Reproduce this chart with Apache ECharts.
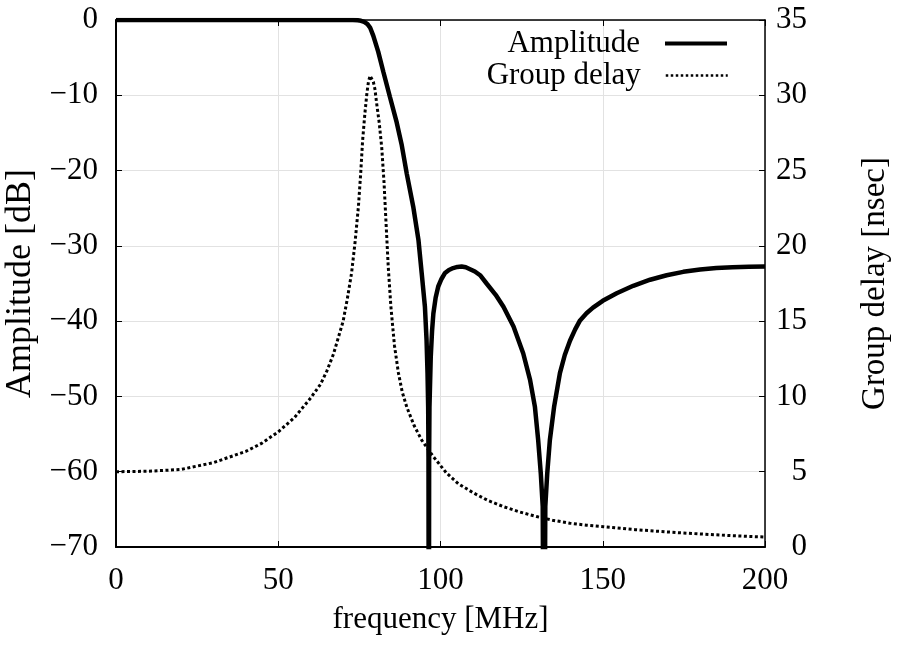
<!DOCTYPE html>
<html><head><meta charset="utf-8">
<script src="https://cdn.jsdelivr.net/npm/echarts@6/dist/echarts.min.js"></script>
<style>html,body{margin:0;padding:0;background:#fff}#c{width:898px;height:651px}</style>
</head><body><div id="c"></div>
<script>
// Amplitude response [dB] vs frequency [MHz]
const ampFreq = [0, 20, 40, 60, 70, 73, 74.5, 75.5, 76.5, 77.5, 78.3, 79.3, 80.8, 82.4, 84.4, 86.5, 88.0, 89.6, 91.6, 93.2, 94.2, 95.2, 95.7, 96.0, 96.2, 96.3, 96.4, 96.5, 96.6, 97.0, 97.4, 97.8, 98.5, 99.3, 100.3, 101.4, 102.6, 103.9, 105.2, 106.5, 107.8, 109.1, 110.6, 112.2, 114.2, 117.0, 119.4, 122.5, 125.5, 127.6, 129.1, 130.1, 130.9, 131.5, 131.9, 132.3, 132.9, 133.7, 135.0, 136.8, 138.3, 139.9, 141.5, 143.0, 145.0, 147.0, 150.0, 154.3, 159.4, 164.6, 169.7, 174.8, 180.0, 185.0, 190.0, 195.0, 200.0];
const amplitude = [0, 0, 0, 0, 0, 0, -0.03, -0.1, -0.25, -0.55, -1.0, -2.1, -4.2, -6.9, -10.2, -13.6, -16.5, -20.4, -24.8, -29.2, -33.6, -38.1, -42.5, -46.9, -51.4, -58, -100, -58, -51.4, -44.7, -41.3, -39.0, -36.9, -35.4, -34.4, -33.6, -33.2, -32.95, -32.8, -32.75, -32.85, -33.1, -33.4, -33.9, -35.0, -36.5, -38.1, -40.7, -44.3, -47.8, -51.4, -55.8, -60.2, -64.6, -100, -64.6, -60.2, -55.8, -51.4, -46.9, -44.5, -42.6, -41.1, -39.9, -38.95, -38.2, -37.3, -36.3, -35.3, -34.5, -33.9, -33.45, -33.15, -32.95, -32.85, -32.78, -32.75];
// Group delay [nsec] vs frequency [MHz]
const delayFreq = [0, 10, 20, 30, 40, 45, 50, 55, 60, 63, 65, 67, 68.5, 70, 71.3, 72.6, 73.7, 74.7, 75.4, 76.0, 76.7, 77.3, 77.8, 78.3, 78.8, 79.3, 79.8, 80.3, 81.1, 81.9, 82.6, 83.2, 83.9, 84.7, 85.8, 87.0, 88.2, 89.6, 91.8, 94.2, 97.8, 101.9, 105.5, 110.1, 114.5, 119.4, 124.5, 129.6, 134.5, 139.9, 145, 150.2, 160, 174.7, 190, 200];
const groupDelay = [5.0, 5.03, 5.15, 5.6, 6.35, 6.9, 7.65, 8.6, 9.9, 10.8, 11.7, 12.8, 13.9, 15.0, 16.5, 18.2, 20.3, 22.6, 24.8, 27.0, 28.8, 30.1, 30.9, 31.3, 31.3, 30.9, 30.4, 29.5, 28.2, 26.5, 24.2, 21.6, 18.6, 16.0, 13.4, 11.6, 10.3, 9.3, 8.1, 7.1, 6.0, 4.9, 4.2, 3.6, 3.1, 2.68, 2.32, 2.02, 1.78, 1.58, 1.45, 1.35, 1.15, 0.93, 0.75, 0.66];
// Axis ranges / ticks
const freqTicks = {min: 0, max: 200, step: 50};
const ampTicks = {min: -70, max: 0, step: 10};
const delayTicks = {min: 0, max: 35, step: 5};
const xName = 'frequency [MHz]';
const yLeftName = 'Amplitude [dB]';
const yRightName = 'Group delay [nsec]';
const seriesNames = ['Amplitude', 'Group delay'];

const FONT = 'Liberation Serif';
const FS = 31;
const minus = v => String(v).replace('-', '\u2212');
const tick = {show: true, inside: true, length: 6, lineStyle: {color: '#000', width: 1}};
const lbl = (margin, align) => ({show: true, margin, align, color: '#000', fontFamily: FONT, fontSize: FS, formatter: minus});
const legendBase = {orient: 'vertical', right: 169, padding: 0, align: 'right', itemWidth: 62, itemHeight: 14, selectedMode: false,
  itemStyle: {opacity: 0, borderWidth: 0},
  textStyle: {fontFamily: FONT, fontSize: FS, color: '#000', padding: [0, 20, 0, 0]}};

const chart = echarts.init(document.getElementById('c'), null, {renderer: 'canvas'});
chart.setOption({
  animation: false,
  backgroundColor: '#fff',
  grid: {left: 116, right: 133, top: 20, bottom: 104, show: false, containLabel: false, outerBoundsMode: 'none'},
  legend: [
    Object.assign({}, legendBase, {data: [seriesNames[0]], top: 28, lineStyle: {width: 4}}),
    Object.assign({}, legendBase, {data: [seriesNames[1]], top: 60, lineStyle: {width: 2.5, type: [2.5, 2.5]}})
  ],
  xAxis: [
    {type: 'value', min: freqTicks.min, max: freqTicks.max, interval: freqTicks.step, position: 'bottom',
     name: xName, nameLocation: 'middle', nameGap: 57, nameTextStyle: {fontFamily: FONT, fontSize: FS, color: '#000'},
     axisLine: {show: true, onZero: false, lineStyle: {color: '#000', width: 2}},
     axisTick: tick, axisLabel: lbl(18, 'center'),
     splitLine: {show: true, lineStyle: {color: '#e2e2e2', width: 1}}},
    {type: 'value', min: freqTicks.min, max: freqTicks.max, interval: freqTicks.step, position: 'top',
     axisLine: {show: true, onZero: false, lineStyle: {color: '#000', width: 1.5}},
     axisTick: tick, axisLabel: {show: false}, splitLine: {show: false}}
  ],
  yAxis: [
    {type: 'value', min: ampTicks.min, max: ampTicks.max, interval: ampTicks.step, position: 'left',
     name: yLeftName, nameLocation: 'middle', nameGap: 68, nameRotate: 90,
     nameTextStyle: {fontFamily: FONT, fontSize: 36, color: '#000'},
     axisLine: {show: true, onZero: false, lineStyle: {color: '#000', width: 2}},
     axisTick: tick, axisLabel: lbl(18, 'right'),
     splitLine: {show: true, lineStyle: {color: '#e2e2e2', width: 1}}},
    {type: 'value', min: delayTicks.min, max: delayTicks.max, interval: delayTicks.step, position: 'right',
     name: yRightName, nameLocation: 'middle', nameGap: 94, nameRotate: 90,
     nameTextStyle: {fontFamily: FONT, fontSize: 33, color: '#000'},
     axisLine: {show: true, onZero: false, lineStyle: {color: '#000', width: 1.5}},
     axisTick: tick, axisLabel: lbl(42, 'right'), splitLine: {show: false}}
  ],
  series: [
    {name: seriesNames[0], type: 'line', xAxisIndex: 0, yAxisIndex: 0, symbol: 'none', clip: true, z: 3,
     lineStyle: {color: '#000', width: 4.5}, itemStyle: {color: '#000'},
     data: ampFreq.map((f, i) => [f, amplitude[i]])},
    {name: seriesNames[1], type: 'line', xAxisIndex: 0, yAxisIndex: 1, symbol: 'none', clip: true, z: 2,
     lineStyle: {color: '#000', width: 3, type: [3, 2.5]}, itemStyle: {color: '#000'},
     data: delayFreq.map((f, i) => [f, groupDelay[i]])}
  ]
});
</script></body></html>
